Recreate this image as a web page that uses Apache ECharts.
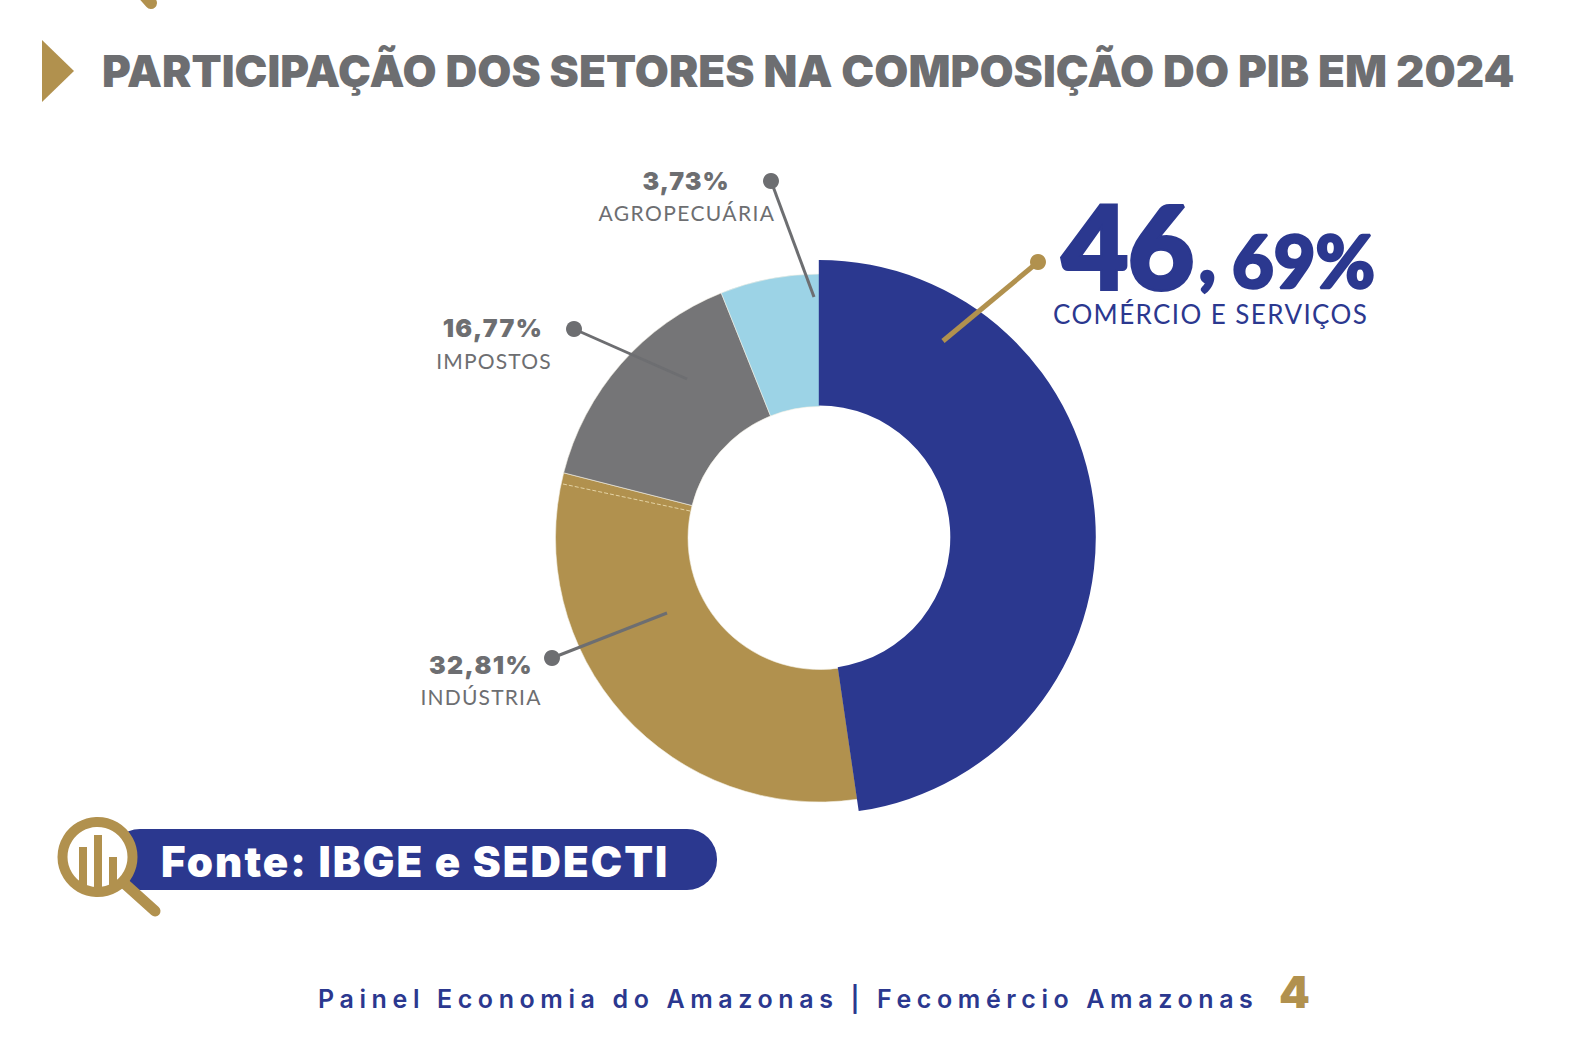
<!DOCTYPE html>
<html>
<head>
<meta charset="utf-8">
<script src="https://cdn.jsdelivr.net/npm/echarts@6/dist/echarts.min.js"></script>
<style>
html, body { margin: 0; padding: 0; background: #fff; }
#chart { width: 1574px; height: 1040px; }
</style>
</head>
<body>
<div id="chart"></div>
<script>
var sectors = ['Comércio e Serviços', 'Indústria', 'Impostos', 'Agropecuária'];
// the printed percentages
var printedValues = ['46', '32,81%', '16,77%', '3,73%'];
// the slices are not drawn to the printed numbers, these are the shares read off the ring
var drawnShares = [47.7, 31.27, 14.96, 6.07];
var colors = ['#2b388f', '#b1914e', '#757577', '#9cd3e6'];

var navy = '#2b388f', gold = '#b1914e', grey = '#6d6e71';
var heavy = 'Inter', light = 'Lato';

// post-render letter spacing, keyed by text
var tracking = {
    'PARTICIPAÇÃO DOS SETORES NA COMPOSIÇÃO DO PIB EM 2024': '0.05px',
    'Painel Economia do Amazonas | Fecomércio Amazonas': '5.6px',
    'Fonte: IBGE e SEDECTI': '2.05px',
    'COMÉRCIO E SERVIÇOS': '1.4px',
    'AGROPECUÁRIA': '1.4px',
    'IMPOSTOS': '1.2px',
    'INDÚSTRIA': '1.2px',
    '32,81%': '1.4px',
    '16,77%': '1.4px',
    '3,73%': '1px'
};

function text(str, x, y, size, weight, color, align, family) {
    return {
        type: 'text', z: 100,
        style: {
            text: str, x: x, y: y, fill: color,
            font: weight + ' ' + size + 'px ' + (family || heavy),
            textAlign: align || 'left', textVerticalAlign: 'middle'
        }
    };
}

// Lato stops at a lighter weight than the big figures, a stroke fattens them
function bigText(str, x, y, size, strokeWidth) {
    var t = text(str, x, y, size, 900, navy, 'left', light);
    t.style.stroke = navy;
    t.style.lineWidth = strokeWidth;
    return t;
}

function leader(x1, y1, x2, y2, color, width) {
    return [
        { type: 'line', z: 90, shape: { x1: x1, y1: y1, x2: x2, y2: y2 }, style: { stroke: color, lineWidth: width } },
        { type: 'circle', z: 91, shape: { cx: x1, cy: y1, r: 8 }, style: { fill: color } }
    ];
}

function sliceData(keepFirst) {
    return drawnShares.map(function(v, i) {
        var show = keepFirst ? i === 0 : i !== 0;
        return {
            value: v,
            name: sectors[i],
            itemStyle: {
                color: show ? colors[i] : 'transparent',
                borderColor: show && !keepFirst ? '#f4f0e4' : 'transparent',
                borderWidth: show && !keepFirst ? 0.6 : 0
            }
        };
    });
}

var graphics = [
    { type: 'polygon', shape: { points: [[42, 40], [74, 71], [42, 102]] }, style: { fill: gold } },
    // tail of the magnifier from the previous page
    { type: 'line', shape: { x1: 135, y1: -15, x2: 151, y2: 3 }, style: { stroke: gold, lineWidth: 12, lineCap: 'round' } },
    // dashed seam in the gold slice
    { type: 'line', z: 80, shape: { x1: 563, y1: 484, x2: 690, y2: 511 }, style: { stroke: '#e4d3a4', lineWidth: 1, lineDash: [4, 2] } },

    text('3,73%', 686, 181, 25, 900, grey, 'center'),
    text('AGROPECUÁRIA', 687, 212, 21, 400, grey, 'center', light),
    text('16,77%', 493, 328, 25, 900, grey, 'center'),
    text('IMPOSTOS', 494, 360, 21, 400, grey, 'center', light),
    text('32,81%', 481, 665, 25, 900, grey, 'center'),
    text('INDÚSTRIA', 481, 696, 21, 400, grey, 'center', light),

    bigText(printedValues[0], 1062, 244, 114, 4),
    bigText(',', 1199, 255, 70, 3),
    bigText('69%', 1232, 260, 72, 2.5),
    text('COMÉRCIO E SERVIÇOS', 1053, 314, 26, 400, navy, 'left', light),

    // fonte badge
    { type: 'rect', z: 100, shape: { x: 110, y: 829, width: 607, height: 61, r: 30 }, style: { fill: navy } },
    text('Fonte: IBGE e SEDECTI', 161, 861, 42, 900, '#ffffff'),
    { type: 'line', z: 101, shape: { x1: 125, y1: 884, x2: 155, y2: 911 }, style: { stroke: gold, lineWidth: 11, lineCap: 'round' } },
    { type: 'circle', z: 102, shape: { cx: 97.5, cy: 857, r: 35 }, style: { fill: '#fff', stroke: gold, lineWidth: 10 } },
    { type: 'rect', z: 103, shape: { x: 79, y: 847, width: 8, height: 38 }, style: { fill: gold } },
    { type: 'rect', z: 103, shape: { x: 94, y: 835, width: 8, height: 53 }, style: { fill: gold } },
    { type: 'rect', z: 103, shape: { x: 109, y: 857, width: 8, height: 28 }, style: { fill: gold } },

    text('Painel Economia do Amazonas | Fecomércio Amazonas', 318, 999, 25, 600, navy),
    text('4', 1279, 992, 44, 900, gold)
];
graphics = graphics
    .concat(leader(1038, 262, 943, 341, gold, 5))
    .concat(leader(771, 181, 814, 297, grey, 3))
    .concat(leader(574, 329, 687, 379, grey, 3))
    .concat(leader(552, 658, 667, 613, grey, 3));

var myChart = echarts.init(document.getElementById('chart'), null, { renderer: 'svg' });
var option = {
    animation: false,
    backgroundColor: '#ffffff',
    title: {
        text: 'PARTICIPAÇÃO DOS SETORES NA COMPOSIÇÃO DO PIB EM 2024',
        left: 97,
        top: 44,
        textStyle: { fontFamily: heavy, fontWeight: 900, fontSize: 44, color: grey }
    },
    series: [
        {
            type: 'pie', silent: true, clockwise: true, startAngle: 90,
            center: [819.5, 538], radius: [131.5, 264],
            label: { show: false }, labelLine: { show: false },
            data: sliceData(false)
        },
        {
            type: 'pie', silent: true, clockwise: true, startAngle: 90,
            center: [818.8, 537], radius: [131.5, 277],
            label: { show: false }, labelLine: { show: false },
            data: sliceData(true)
        }
    ],
    graphic: { elements: graphics }
};
myChart.setOption(option);

document.querySelectorAll('#chart text').forEach(function(t) {
    var s = tracking[t.textContent];
    if (s) t.style.letterSpacing = s;
});
</script>
</body>
</html>
